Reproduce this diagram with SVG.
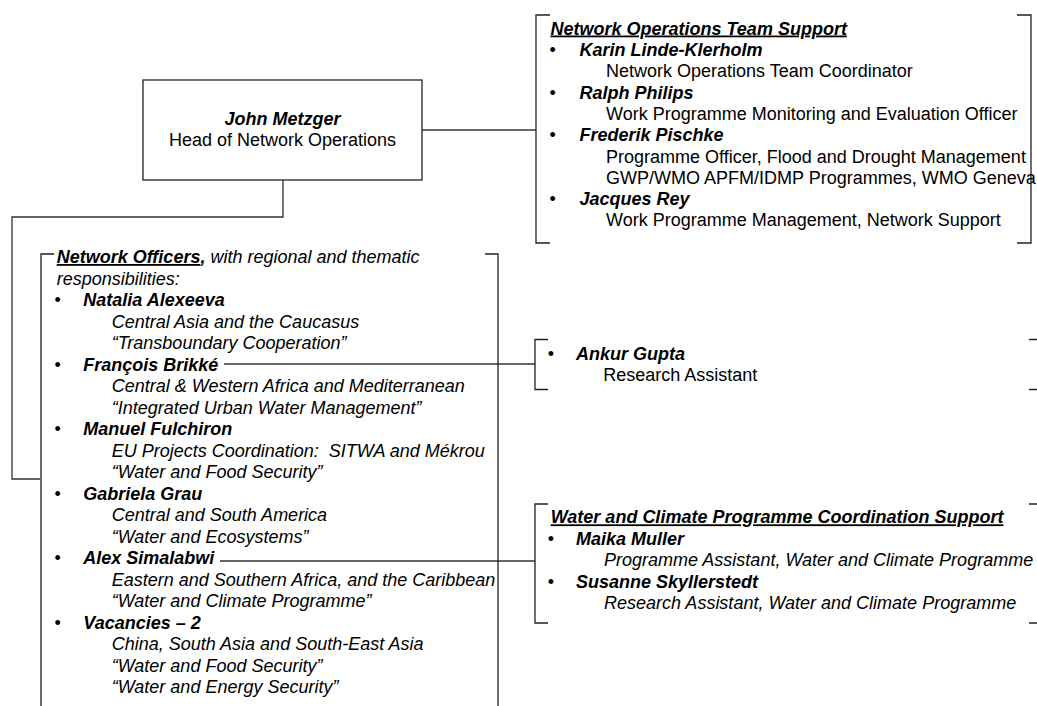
<svg xmlns="http://www.w3.org/2000/svg" width="1037" height="706" viewBox="0 0 1037 706">
<style>
text{font-family:"Liberation Sans",Arial,sans-serif;font-size:18px;fill:#000}
.bi{font-weight:bold;font-style:italic}
.i{font-style:italic}
.u{text-decoration:underline}
.br{fill:none;stroke:#222;stroke-width:1.3}
.cn{fill:none;stroke:#333;stroke-width:1.3}
.box{fill:#fff;stroke:#222;stroke-width:1.3}
</style>
<rect width="1037" height="706" fill="#fff"/>
<g id="connectors">
<path class="cn" d="M422,130 H536"/>
<path class="cn" d="M283,180 V217 H12 V479 H40"/>
<path class="cn" d="M224,364 H535"/>
<path class="cn" d="M220,561 H535"/>
</g>
<g id="head">
<rect class="box" x="143" y="80" width="279" height="100"/>
<text x="282.5" y="125" text-anchor="middle" class="bi">John Metzger</text>
<text x="282.5" y="146" text-anchor="middle">Head of Network Operations</text>
</g>
<g id="team-support">
<path class="br" d="M550,15 H536 V243 H550"/>
<path class="br" d="M1017,15 H1031 V243 H1017"/>
<text x="550.5" y="34.5" class="bi u">Network Operations Team Support</text>
<text x="549.5" y="56">•</text><text x="579.5" y="56" class="bi">Karin Linde-Klerholm</text>
<text x="606" y="77.3">Network Operations Team Coordinator</text>
<text x="549.5" y="98.6">•</text><text x="579.5" y="98.6" class="bi">Ralph Philips</text>
<text x="606" y="119.9">Work Programme Monitoring and Evaluation Officer</text>
<text x="549.5" y="141.2">•</text><text x="579.5" y="141.2" class="bi">Frederik Pischke</text>
<text x="606" y="162.5">Programme Officer, Flood and Drought Management</text>
<text x="606" y="183.8">GWP/WMO APFM/IDMP Programmes, WMO Geneva</text>
<text x="549.5" y="205.1">•</text><text x="579.5" y="205.1" class="bi">Jacques Rey</text>
<text x="606" y="226.4">Work Programme Management, Network Support</text>
</g>
<g id="network-officers">
<path class="br" d="M54,254 H41 V710"/>
<path class="br" d="M485,254 H498 V710"/>
<text x="56.7" y="263"><tspan class="bi u">Network Officers</tspan><tspan class="bi">,</tspan><tspan class="i"> with regional and thematic</tspan></text>
<text x="56.7" y="284.5" class="i">responsibilities:</text>
<text x="54.5" y="306">•</text><text x="83.3" y="306" class="bi">Natalia Alexeeva</text>
<text x="111.7" y="327.5" class="i">Central Asia and the Caucasus</text>
<text x="111.7" y="349" class="i">“Transboundary Cooperation”</text>
<text x="54.5" y="370.5">•</text><text x="83.3" y="370.5" class="bi">François Brikké</text>
<text x="111.7" y="392" class="i">Central &amp; Western Africa and Mediterranean</text>
<text x="111.7" y="413.5" class="i">“Integrated Urban Water Management”</text>
<text x="54.5" y="435">•</text><text x="83.3" y="435" class="bi">Manuel Fulchiron</text>
<text x="111.7" y="456.5" class="i" xml:space="preserve">EU Projects Coordination:  SITWA and Mékrou</text>
<text x="111.7" y="478" class="i">“Water and Food Security”</text>
<text x="54.5" y="499.5">•</text><text x="83.3" y="499.5" class="bi">Gabriela Grau</text>
<text x="111.7" y="521" class="i">Central and South America</text>
<text x="111.7" y="542.5" class="i">“Water and Ecosystems”</text>
<text x="54.5" y="564">•</text><text x="83.3" y="564" class="bi">Alex Simalabwi</text>
<text x="111.7" y="585.5" class="i">Eastern and Southern Africa, and the Caribbean</text>
<text x="111.7" y="607" class="i">“Water and Climate Programme”</text>
<text x="54.5" y="628.5">•</text><text x="83.3" y="628.5" class="bi">Vacancies – 2</text>
<text x="111.7" y="650" class="i">China, South Asia and South-East Asia</text>
<text x="111.7" y="671.5" class="i">“Water and Food Security”</text>
<text x="111.7" y="693" class="i">“Water and Energy Security”</text>
</g>
<g id="ankur">
<path class="br" d="M548,339.5 H535 V389.5 H548"/>
<path class="br" d="M1029,339.5 H1040 M1029,389.5 H1040"/>
<text x="547.8" y="360">•</text><text x="576" y="360" class="bi">Ankur Gupta</text>
<text x="603.3" y="381">Research Assistant</text>
</g>
<g id="water-climate">
<path class="br" d="M548,504 H535 V623 H548"/>
<path class="br" d="M1029,504 H1040 M1029,623 H1040"/>
<text x="550.7" y="523.3" class="bi u">Water and Climate Programme Coordination Support</text>
<text x="547.8" y="544.7">•</text><text x="576" y="544.7" class="bi">Maika Muller</text>
<text x="604" y="566.1" class="i">Programme Assistant, Water and Climate Programme</text>
<text x="547.8" y="587.5">•</text><text x="576" y="587.5" class="bi">Susanne Skyllerstedt</text>
<text x="604" y="608.9" class="i">Research Assistant, Water and Climate Programme</text>
</g>
</svg>
